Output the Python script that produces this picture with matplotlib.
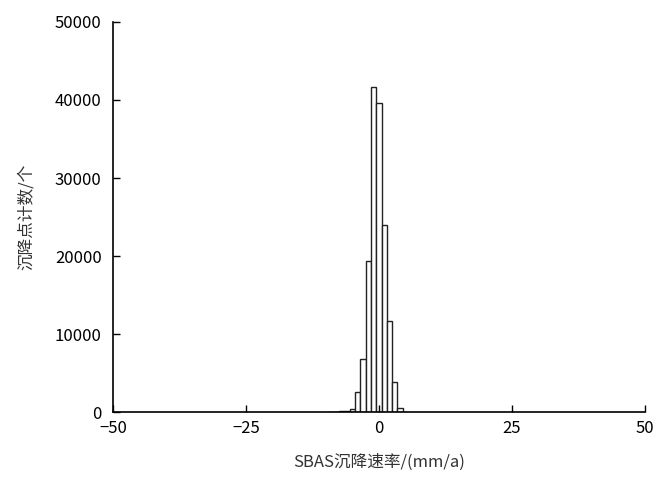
import matplotlib.pyplot as plt
import numpy as np

plt.rcParams['font.family'] = ['Noto Sans CJK SC', 'DejaVu Sans']

# histogram of SBAS subsidence rate (bin width 1 mm/a)
rate_bins = [-9, -8, -7, -6, -5, -4, -3, -2, -1, 0, 1, 2, 3, 4, 5]
point_counts = [20, 40, 80, 150, 450, 2600, 6800, 19400, 41700, 39600, 24000, 11700, 3800, 500, 30]

fig = plt.figure(figsize=(6.56, 4.78), dpi=100)
ax = fig.add_axes([0.172, 0.138, 0.811, 0.816])

ax.bar(rate_bins, point_counts, width=1.0, color='white', edgecolor='#222222', linewidth=1.0)

ax.set_xlim(-50, 50)
ax.set_ylim(0, 50000)
ax.set_xticks([-50, -25, 0, 25, 50])
ax.set_yticks([0, 10000, 20000, 30000, 40000, 50000])
ax.tick_params(direction='in', length=5, width=1, labelsize=12, colors='black')
ax.tick_params(axis='x', pad=6)
ax.tick_params(axis='y', pad=8)
ax.spines['top'].set_visible(False)
ax.spines['right'].set_visible(False)
ax.spines['left'].set_linewidth(1.2)
ax.spines['bottom'].set_linewidth(1.2)

ax.set_xlabel('SBAS沉降速率/(mm/a)', fontsize=12, labelpad=12, color='#333333')
ax.set_ylabel('沉降点计数/个', fontsize=12, labelpad=14, color='#333333')

fig.savefig('out.png', dpi=100)
